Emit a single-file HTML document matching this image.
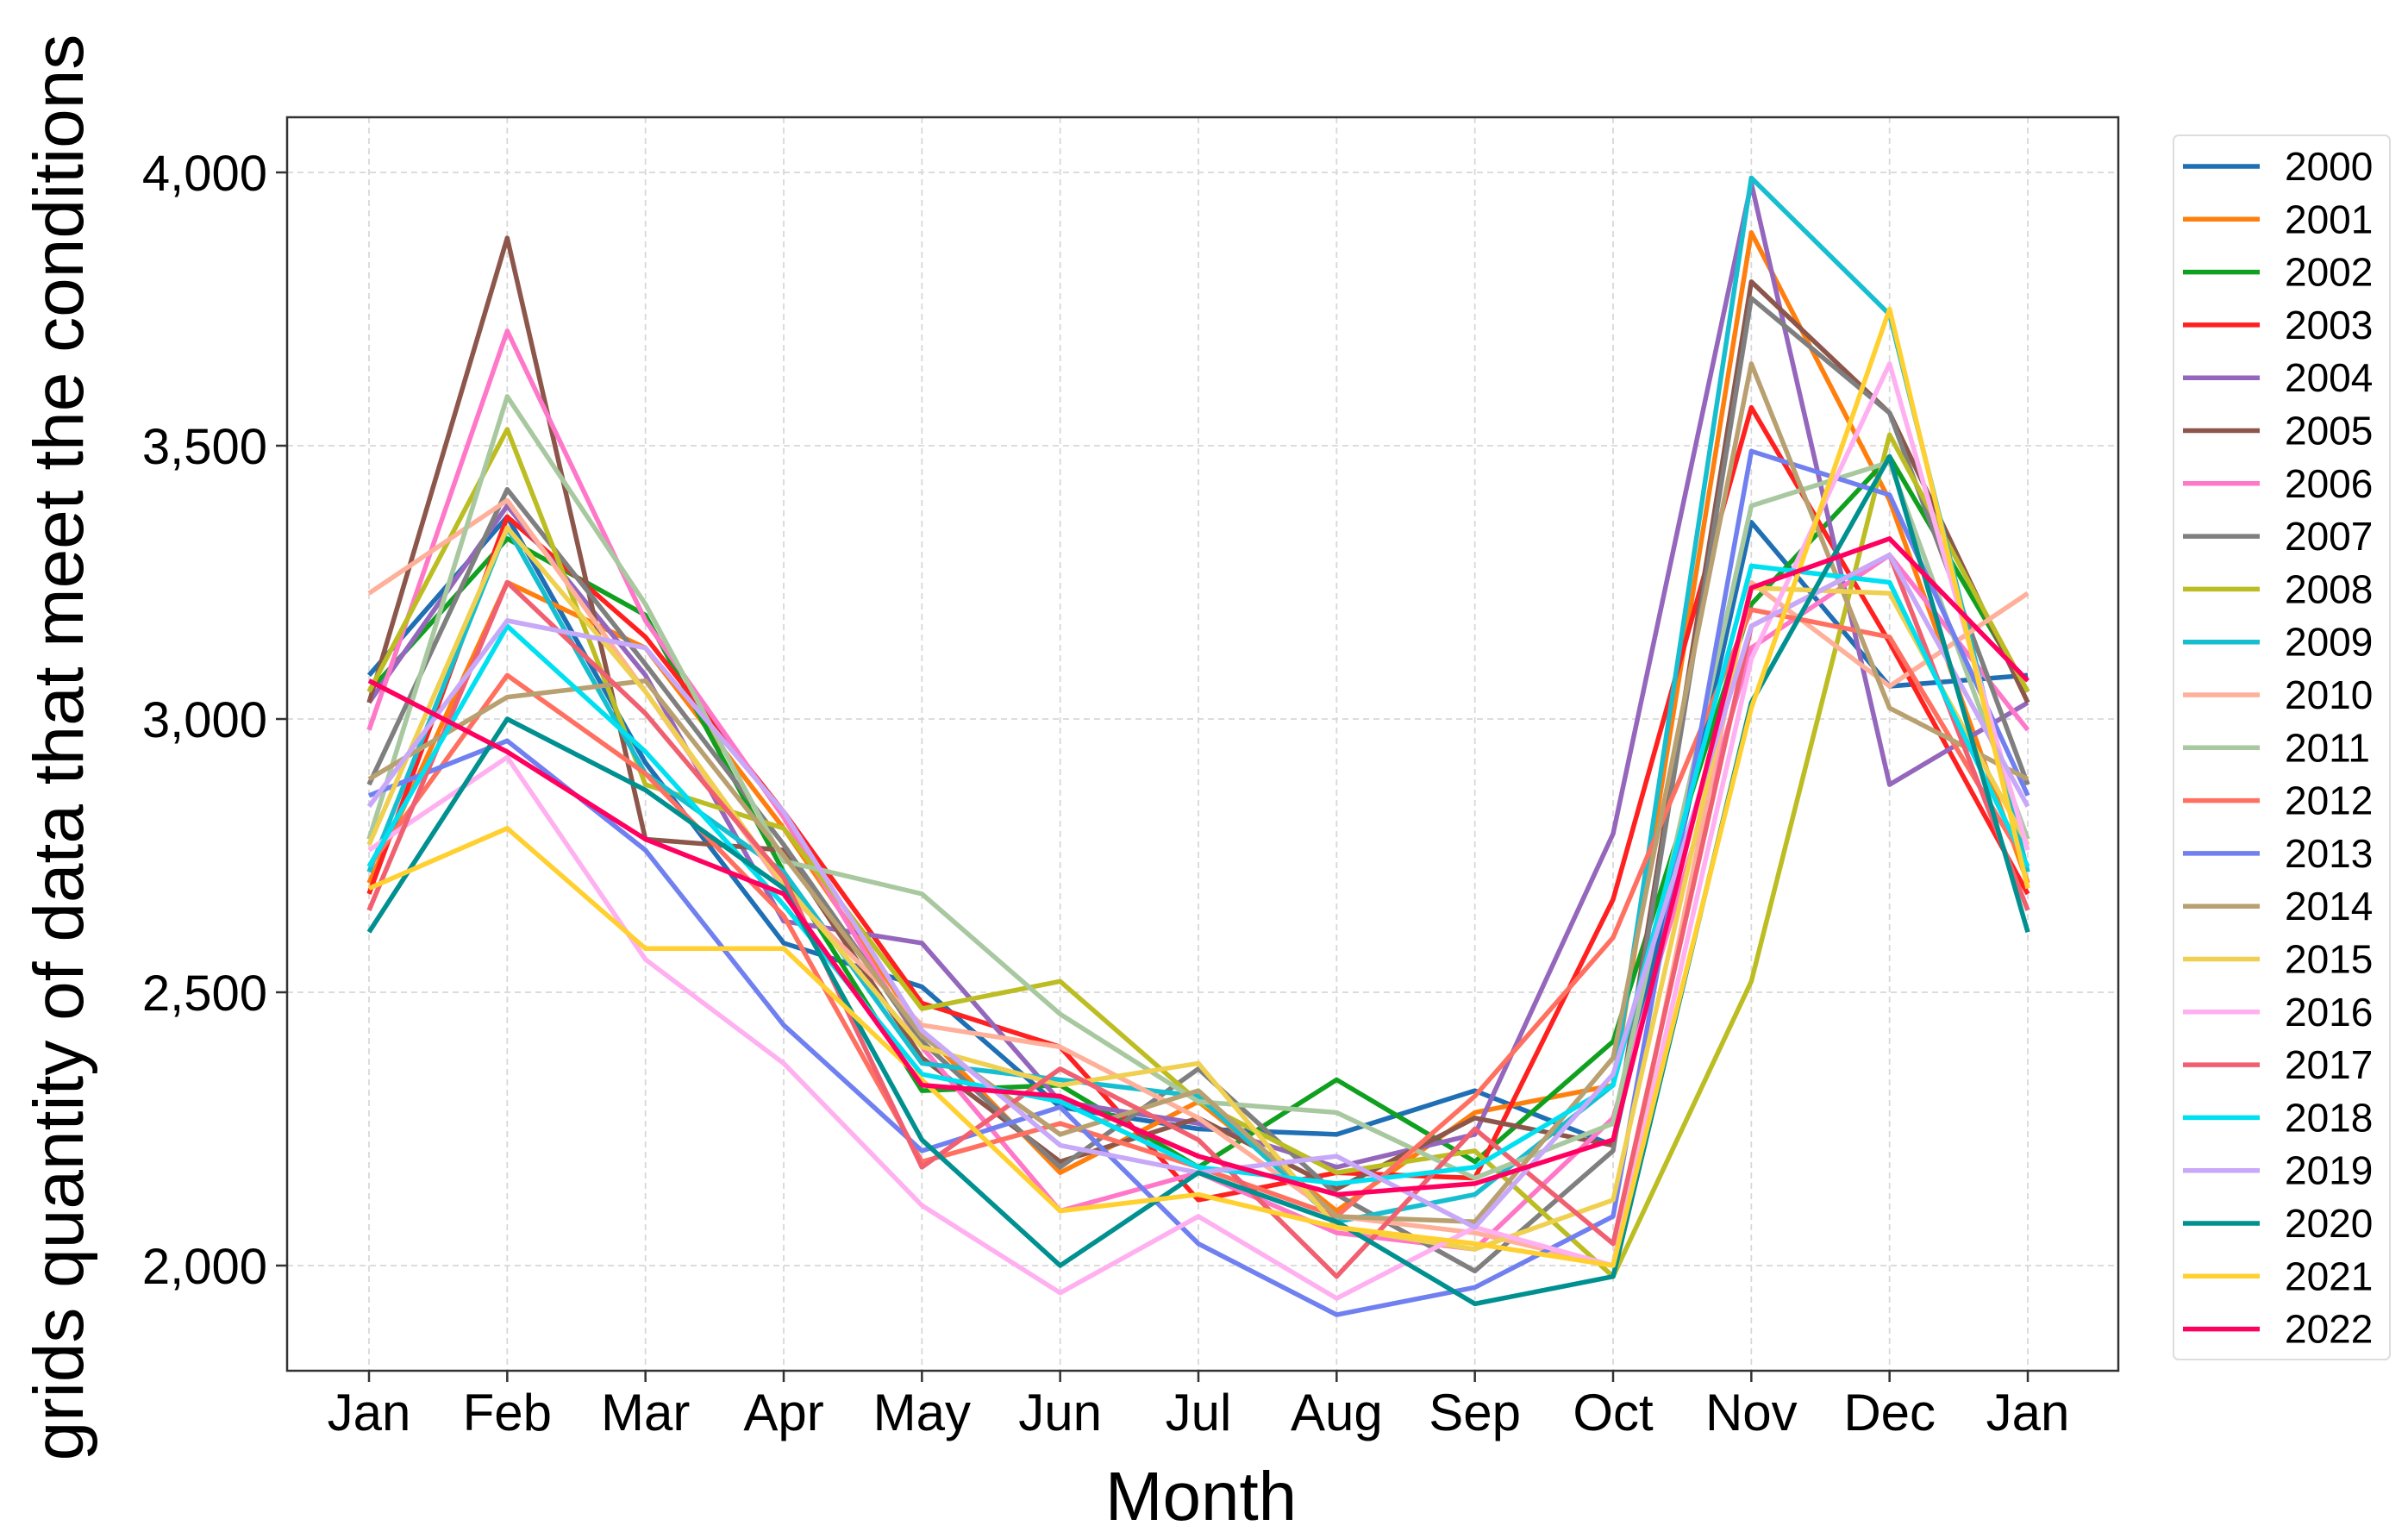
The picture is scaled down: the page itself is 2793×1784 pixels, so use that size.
<!DOCTYPE html>
<html><head><meta charset="utf-8"><style>
body{margin:0;background:#fff;}
svg{display:block;font-family:"Liberation Sans",sans-serif;}
</style></head><body>
<svg id="chart" width="2793" height="1784" viewBox="0 0 2793 1784" xmlns="http://www.w3.org/2000/svg">
<rect x="0" y="0" width="2793" height="1784" fill="#fff"/>
<g id="grid"></g>
<g id="lines"></g>
<rect x="333" y="136" width="2124" height="1454" fill="none" stroke="#333" stroke-width="2.5"/>
<g id="ticks"></g>
<text transform="translate(96,867) rotate(-90)" text-anchor="middle" font-size="82" fill="#000">grids quantity of data that meet the conditions</text>
<text x="1393" y="1763" text-anchor="middle" font-size="80" fill="#000">Month</text>
<g id="legend"></g>
</svg>
<script>
const months=["Jan","Feb","Mar","Apr","May","Jun","Jul","Aug","Sep","Oct","Nov","Dec","Jan"];
const yTicks=[2000,2500,3000,3500,4000];
const yTickLabels=["2,000","2,500","3,000","3,500","4,000"];
const years=["2000","2001","2002","2003","2004","2005","2006","2007","2008","2009","2010","2011","2012","2013","2014","2015","2016","2017","2018","2019","2020","2021","2022"];
const colors=["#1f6fb4","#ff7f0e","#10a020","#ff2020","#9467bd","#8c564b","#ff77c8","#7f7f7f","#bcbd22","#17becf","#ffb09a","#a8c8a0","#ff7060","#7080f0","#b8a070","#f0d050","#ffb0f0","#f06070","#00e0f0","#c8a8f8","#009090","#ffd030","#ff0060"];
const s2000=[3080,3370,2920,2590,2510,2290,2250,2240,2320,2220,3360,3060,3080];
const s2001=[2700,3250,3130,2800,2430,2170,2300,2100,2280,2330,3890,3400,2700];
const s2002=[3050,3330,3190,2720,2320,2330,2180,2340,2190,2410,3210,3480,3050];
const s2003=[2680,3370,3150,2830,2480,2400,2120,2170,2160,2670,3570,3140,2680];
const s2004=[3030,3390,3080,2630,2590,2300,2260,2180,2240,2790,3980,2880,3030];
const s2005=[3030,3880,2780,2760,2380,2190,2270,2140,2270,2220,3800,3560,3030];
const s2006=[2980,3710,3180,2820,2400,2100,2170,2060,2030,2270,3130,3300,2980];
const s2007=[2880,3420,3100,2770,2410,2180,2360,2130,1990,2210,3770,3560,2880];
const s2008=[3050,3530,2880,2800,2470,2520,2300,2170,2210,1980,2520,3520,3050];
const s2009=[2720,3350,2900,2720,2370,2340,2310,2080,2130,2330,3990,3740,2720];
const s2010=[3230,3400,3050,2690,2440,2400,2270,2090,2060,2000,3250,3060,3230];
const s2011=[2780,3590,3210,2740,2680,2460,2300,2280,2160,2260,3390,3470,2780];
const s2012=[2730,3080,2900,2640,2190,2260,2180,2090,2310,2600,3200,3150,2730];
const s2013=[2860,2960,2760,2440,2210,2290,2040,1910,1960,2090,3490,3410,2860];
const s2014=[2890,3040,3070,2750,2420,2240,2320,2090,2080,2380,3650,3020,2890];
const s2015=[2770,3350,3050,2700,2400,2330,2370,2070,2030,2120,3240,3230,2770];
const s2016=[2760,2930,2560,2370,2110,1950,2090,1940,2070,2000,3110,3650,2760];
const s2017=[2650,3250,3010,2710,2180,2360,2230,1980,2250,2040,3170,3300,2650];
const s2018=[2730,3170,2940,2660,2350,2300,2180,2150,2180,2330,3280,3250,2730];
const s2019=[2840,3180,3130,2830,2430,2220,2170,2200,2070,2350,3170,3300,2840];
const s2020=[2610,3000,2870,2690,2230,2000,2170,2080,1930,1980,3030,3480,2610];
const s2021=[2690,2800,2580,2580,2340,2100,2130,2070,2040,2000,3020,3750,2690];
const s2022=[3070,2940,2780,2680,2330,2310,2200,2130,2150,2230,3240,3330,3070];
const series=[s2000,s2001,s2002,s2003,s2004,s2005,s2006,s2007,s2008,s2009,s2010,s2011,s2012,s2013,s2014,s2015,s2016,s2017,s2018,s2019,s2020,s2021,s2022];

const NS="http://www.w3.org/2000/svg";
const X0=428, X1=2352, Y2000=1468, Y4000=200;
function xs(i){return X0+(X1-X0)*i/(months.length-1);}
function ys(v){return Y2000+(v-2000)*(Y4000-Y2000)/2000;}
function mk(tag,attrs,parent){const e=document.createElementNS(NS,tag);for(const k in attrs)e.setAttribute(k,attrs[k]);parent.appendChild(e);return e;}
const grid=document.getElementById('grid'),ticks=document.getElementById('ticks'),lines=document.getElementById('lines'),legend=document.getElementById('legend');
months.forEach((m,i)=>{
  const g=mk('line',{x1:xs(i),x2:xs(i),y1:136,y2:1590,stroke:'#d8d8d8','stroke-width':1.8,'stroke-dasharray':'7,5'},grid);
  
  
  const t=mk('line',{x1:xs(i),x2:xs(i),y1:1590,y2:1603,stroke:'#333','stroke-width':2.5},ticks);
  
  
  const l=mk('text',{x:xs(i),y:1659,'text-anchor':'middle','font-size':60,fill:'#000'},ticks);
  l.textContent=m;
  
  
});
yTicks.forEach((v,i)=>{
  const g=mk('line',{x1:333,x2:2457,y1:ys(v),y2:ys(v),stroke:'#d8d8d8','stroke-width':1.8,'stroke-dasharray':'7,5'},grid);
  
  
  const t=mk('line',{x1:320,x2:333,y1:ys(v),y2:ys(v),stroke:'#333','stroke-width':2.5},ticks);
  
  
  const l=mk('text',{x:310,y:ys(v)+21,'text-anchor':'end','font-size':58,fill:'#000'},ticks);
  l.textContent=yTickLabels[i];
  
  
});
series.forEach((s,k)=>{
  const p=mk('polyline',{points:s.map((v,i)=>xs(i)+','+ys(v)).join(' '),fill:'none',stroke:colors[k],'stroke-width':5.5,'stroke-linejoin':'round'},lines);
  
  
});
const box=mk('rect',{x:2521,y:157,width:251,height:1420,rx:6,fill:'#fff',stroke:'#ddd','stroke-width':2},legend);


years.forEach((y,k)=>{
  const cy=193+k*61.3;
  const g=mk('g',{},legend);
  
  
  mk('line',{x1:2532,x2:2621,y1:cy,y2:cy,stroke:colors[k],'stroke-width':5.5},g);
  const t=mk('text',{x:2650,y:cy+16,'font-size':46,fill:'#000'},g);
  t.textContent=y;
});
</script>
</body></html>
